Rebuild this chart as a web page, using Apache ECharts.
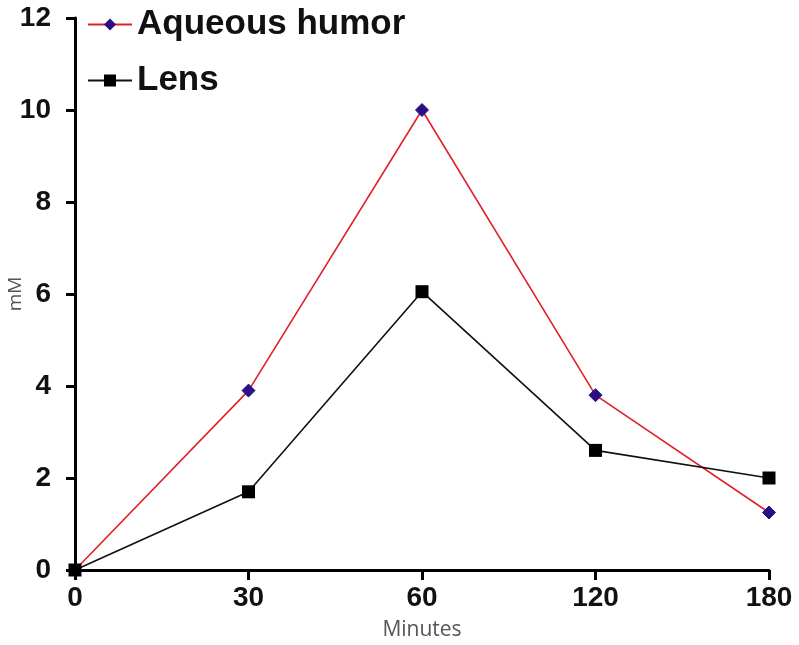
<!DOCTYPE html>
<html><head><meta charset="utf-8">
<script src="https://cdn.jsdelivr.net/npm/echarts@6/dist/echarts.min.js"></script>
<style>html,body{margin:0;padding:0;background:#fff}#c{width:799px;height:645px}</style>
</head><body><div id="c"></div>
<script>
const categories = ['0', '30', '60', '120', '180'];
const aqueous = [0, 3.9, 10, 3.8, 1.25];
const lens = [0, 1.7, 6.05, 2.6, 2.0];
const yTicks = [0, 2, 4, 6, 8, 10, 12];

const FONT = "'Liberation Sans Narrow', 'Liberation Sans', Arial, sans-serif";
const chart = echarts.init(document.getElementById('c'));
chart.setOption({
  animation: false,
  backgroundColor: '#fff',
  grid: { left: 75, right: 30, top: 18, bottom: 75, outerBoundsMode: 'none', containLabel: false },
  legend: {
    orient: 'vertical', left: 82, top: 2, itemGap: 21,
    itemWidth: 44, itemHeight: 15,
    textStyle: { fontFamily: FONT, fontWeight: 'bold', fontSize: 35, color: '#111' },
    data: ['Aqueous humor', 'Lens']
  },
  xAxis: {
    type: 'category', data: categories, boundaryGap: false,
    name: 'Minutes', nameLocation: 'middle', nameGap: 50, nameMoveOverlap: false,
    nameTextStyle: { fontFamily: 'Open Sans, sans-serif', fontSize: 21, color: '#555' },
    axisLine: { lineStyle: { color: '#000', width: 3 } },
    axisTick: { show: true, alignWithLabel: true, length: 10, lineStyle: { color: '#000', width: 3 } },
    axisLabel: { fontFamily: FONT, fontWeight: 'bold', fontSize: 28, color: '#111', margin: 14 }
  },
  yAxis: {
    type: 'value', min: 0, max: 12, interval: 2,
    name: 'mM', nameLocation: 'middle', nameGap: 50, nameRotate: 90, nameMoveOverlap: false,
    nameTextStyle: { fontFamily: 'Open Sans, sans-serif', fontSize: 19, color: '#555' },
    axisLine: { show: true, lineStyle: { color: '#000', width: 3 } },
    axisTick: { show: true, length: 9, lineStyle: { color: '#000', width: 3 } },
    axisLabel: { fontFamily: FONT, fontWeight: 'bold', fontSize: 28, color: '#111', margin: 24,
      formatter: v => yTicks.includes(v) ? String(v) : '' },
    splitLine: { show: false }
  },
  series: [
    { name: 'Aqueous humor', type: 'line', data: aqueous,
      symbol: 'diamond', symbolSize: 13,
      lineStyle: { color: '#e0202a', width: 1.6 },
      itemStyle: { color: '#2a0f86', borderColor: '#2a0f86' } },
    { name: 'Lens', type: 'line', data: lens,
      symbol: 'rect', symbolSize: 13,
      lineStyle: { color: '#111', width: 1.6 },
      itemStyle: { color: '#000' } }
  ]
});
</script></body></html>
